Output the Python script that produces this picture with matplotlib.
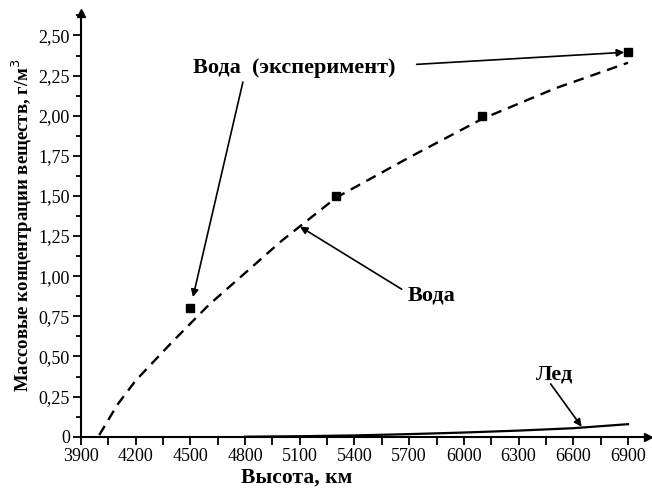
import numpy as np
import matplotlib

matplotlib.use("Agg")
from matplotlib import pyplot as plt
from matplotlib.ticker import MultipleLocator

# water concentration (model curve)
height_water = [4000, 4100, 4200, 4400, 4600, 4800, 5000, 5300, 5700, 6100, 6500, 6900]
water = [0.01, 0.20, 0.35, 0.59, 0.82, 1.02, 1.22, 1.49, 1.74, 1.98, 2.17, 2.33]

# ice concentration
height_ice = [4800, 5100, 5400, 5700, 6000, 6300, 6600, 6900]
ice = [0.0, 0.003, 0.008, 0.016, 0.026, 0.038, 0.053, 0.078]

# experiment points
height_exp = [4500, 5300, 6100, 6900]
water_exp = [0.80, 1.50, 2.00, 2.40]

x_ticks = [3900, 4200, 4500, 4800, 5100, 5400, 5700, 6000, 6300, 6600, 6900]
y_ticks = [0, 0.25, 0.5, 0.75, 1.0, 1.25, 1.5, 1.75, 2.0, 2.25, 2.5]
y_tick_labels = ["0", "0,25", "0,50", "0,75", "1,00", "1,25", "1,50",
                 "1,75", "2,00", "2,25", "2,50"]

plt.rcParams["font.family"] = ["Liberation Serif", "DejaVu Serif"]

fig = plt.figure(figsize=(6.52, 4.88), dpi=100)
ax = fig.add_axes([81 / 652, 51.3 / 488, 567 / 652, 423.7 / 488])

ax.plot(height_water, water, color="black", lw=1.7, ls=(0, (4.5, 3)))
ax.plot(height_ice, ice, color="black", lw=1.6)
ax.plot(height_exp, water_exp, ls="none", marker="s", ms=6, color="black")

ax.set_xlim(3900, 7010)
ax.set_ylim(0, 2.64)

ax.spines["top"].set_visible(False)
ax.spines["right"].set_visible(False)
ax.spines["left"].set_linewidth(1.5)
ax.spines["bottom"].set_linewidth(1.5)
ax.plot(1, 0, ">k", ms=6, transform=ax.transAxes, clip_on=False)
ax.plot(0, 1, "^k", ms=6, transform=ax.transAxes, clip_on=False)

ax.set_xticks(x_ticks)
ax.set_xticklabels([str(t) for t in x_ticks])
ax.xaxis.set_minor_locator(MultipleLocator(150))
ax.set_yticks(y_ticks)
ax.set_yticklabels(y_tick_labels)
ax.yaxis.set_minor_locator(MultipleLocator(0.125))
ax.tick_params(axis="both", which="major", direction="out", length=6,
               width=1.3, labelsize=13, pad=2)
ax.tick_params(axis="x", which="minor", direction="out", length=6, width=1.3)
ax.tick_params(axis="y", which="minor", direction="out", length=3.5, width=1.3)

ax.set_xlabel("Высота, км", fontsize=15.5, fontweight="bold")
ax.xaxis.set_label_coords(0.381, -0.074)
ax.set_ylabel("Массовые концентрации веществ, г/м$^3$", fontsize=13.5,
              fontweight="bold")
ax.yaxis.set_label_coords(-0.082, 0.5)

arrow = dict(arrowstyle="-|>", color="black", lw=1.2, mutation_scale=11,
             shrinkA=0, shrinkB=0)
font = {"fontsize": 16, "fontweight": "bold"}

ax.text(4514, 2.30, "Вода  (эксперимент)", ha="left", va="center", **font)
ax.annotate("", xy=(6880, 2.395), xytext=(5741, 2.32), arrowprops=arrow)
ax.annotate("", xy=(4514, 0.87), xytext=(4788, 2.21), arrowprops=arrow)

ax.text(5693, 0.879, "Вода", ha="left", va="center", **font)
ax.annotate("", xy=(5101, 1.309), xytext=(5659, 0.919), arrowprops=arrow)

ax.text(6395, 0.385, "Лед", ha="left", va="center", **font)
ax.annotate("", xy=(6646, 0.062), xytext=(6476, 0.329), arrowprops=arrow)

fig.savefig("out.png", dpi=100)
